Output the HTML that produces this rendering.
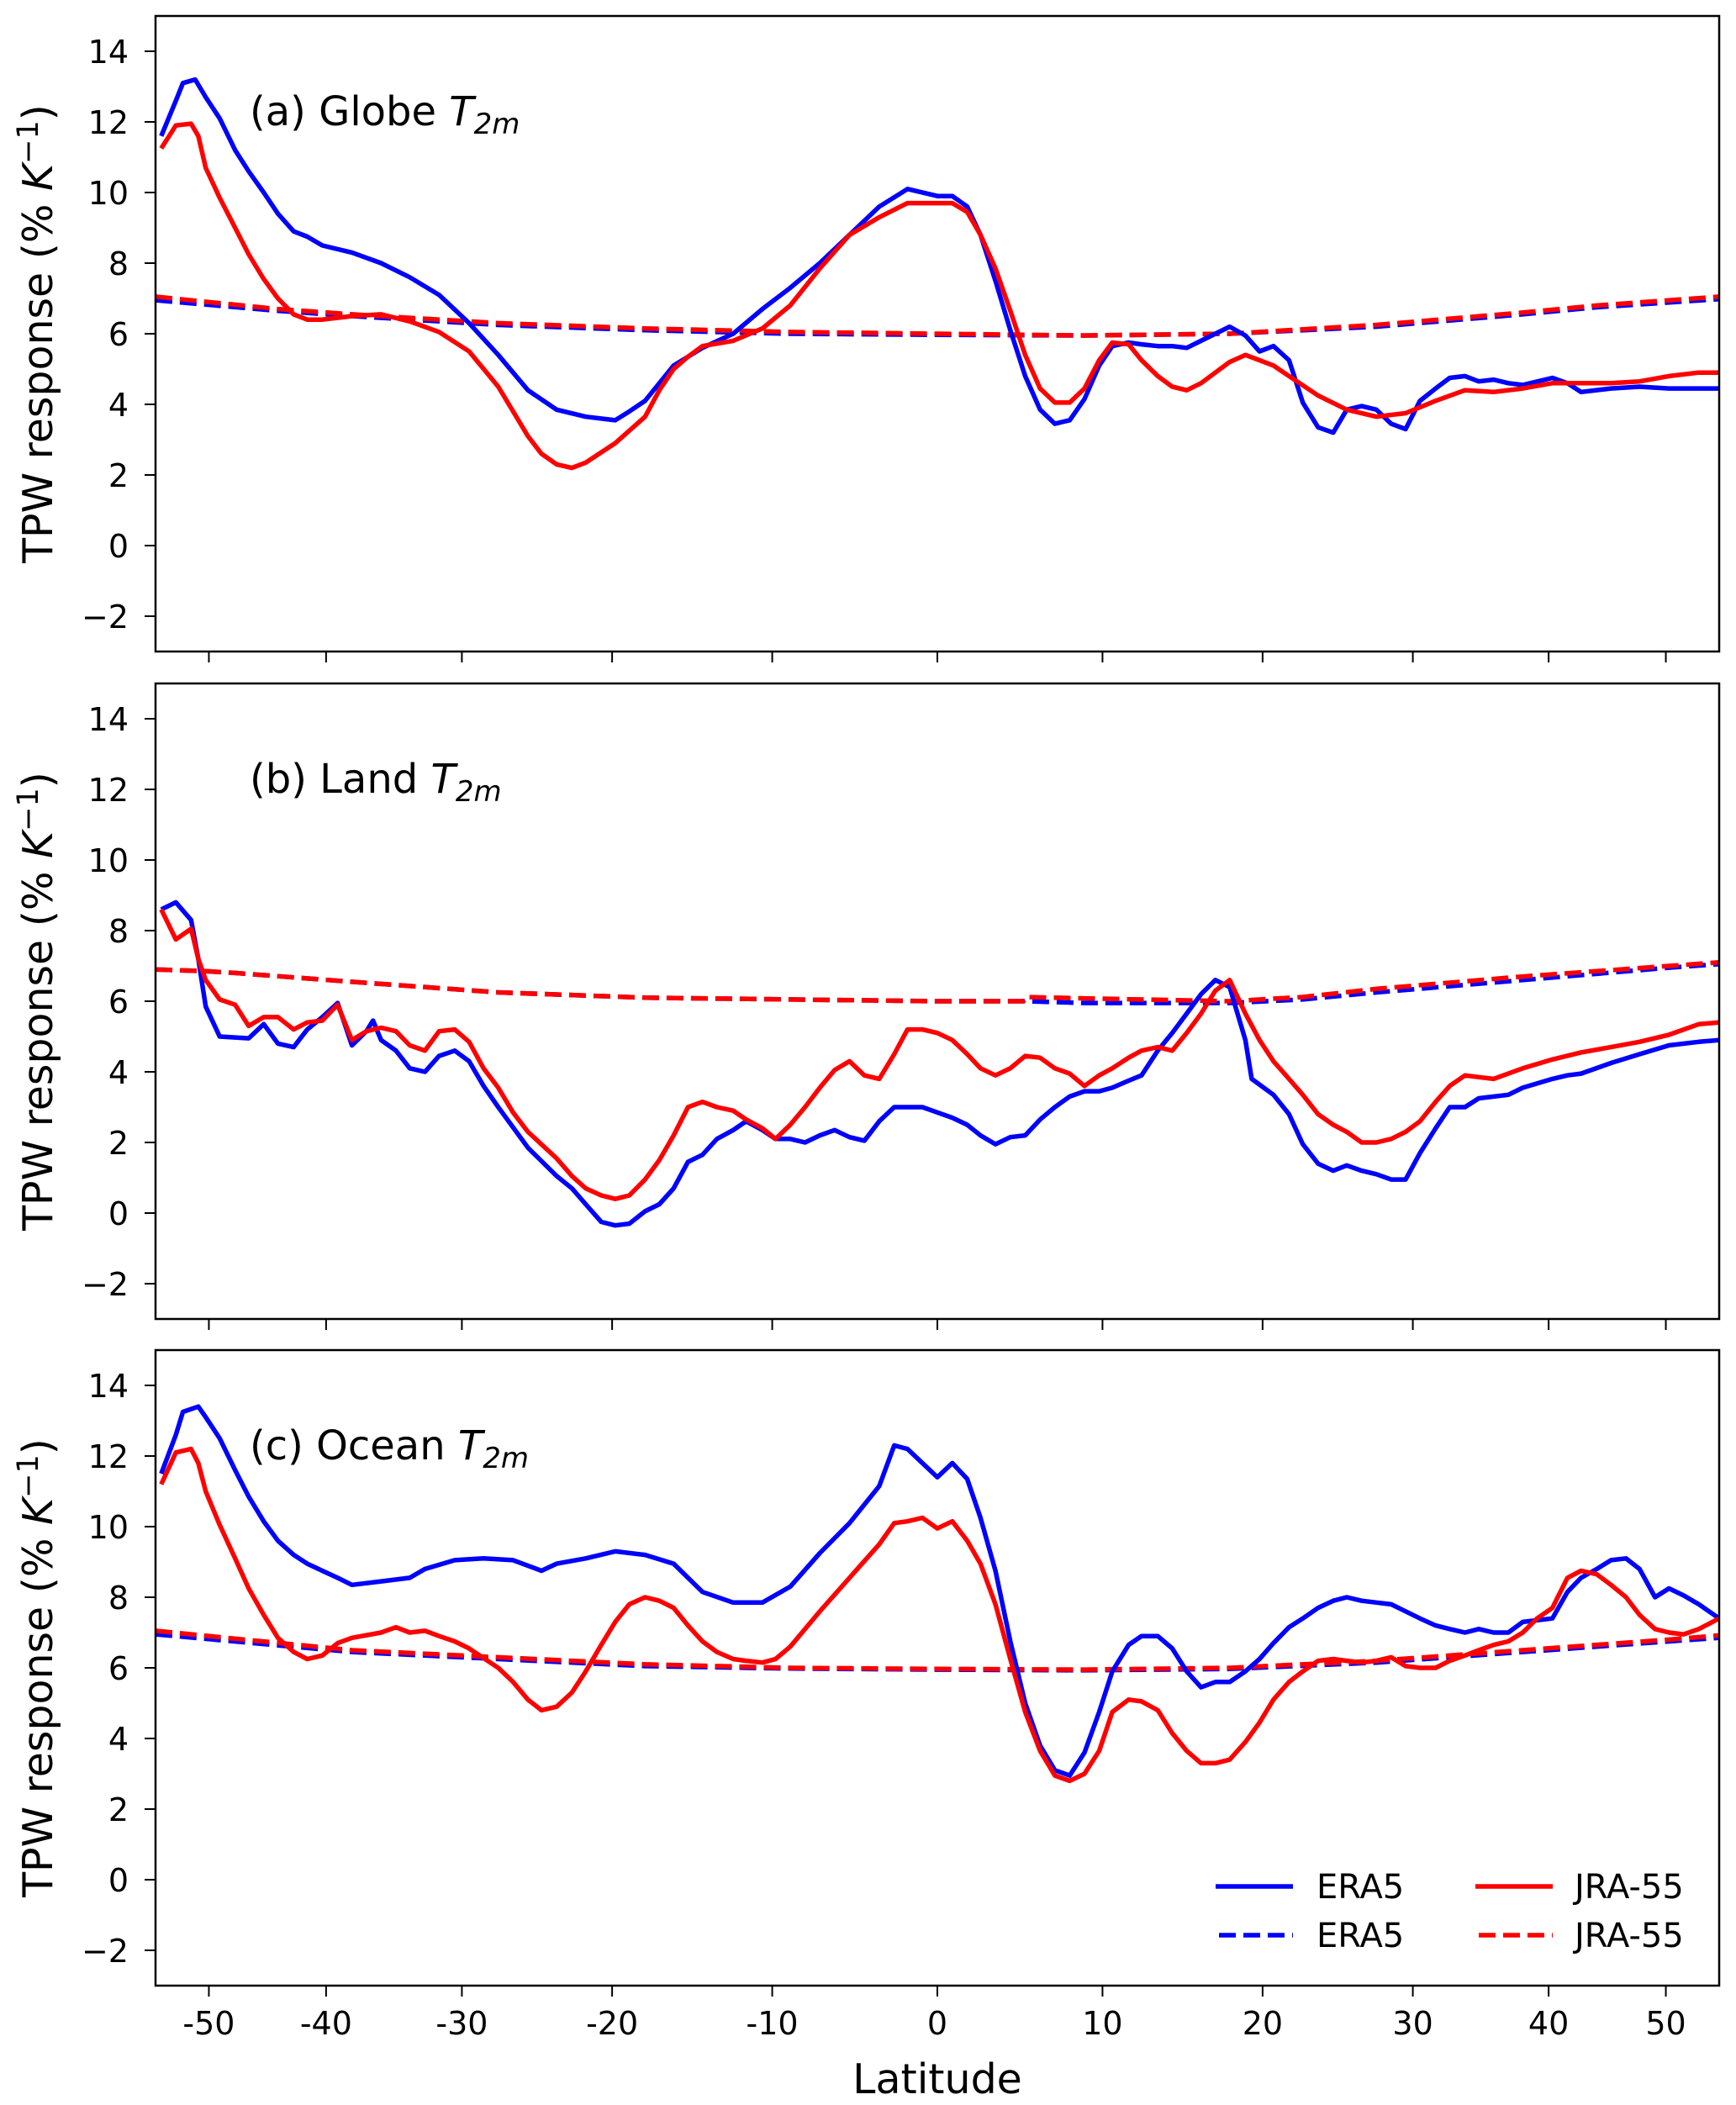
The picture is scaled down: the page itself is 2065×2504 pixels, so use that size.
<!DOCTYPE html>
<html><head><meta charset="utf-8"><style>
body{margin:0;background:#fff}
svg{display:block;font-family:"DejaVu Sans","Liberation Sans",sans-serif}
</style></head><body>
<svg id="chart" width="2065" height="2504" viewBox="0 0 2065 2504" xmlns="http://www.w3.org/2000/svg"></svg>
<script>
// ---- data ----
const xTicks=[-50,-40,-30,-20,-10,0,10,20,30,40,50];
const yTicks=[-2,0,2,4,6,8,10,12,14];
const panelLabels=["(a) Globe ","(b) Land ","(c) Ocean "];
const seriesNames=["ERA5","JRA-55"];
// sampled latitudes (deg) used by many series
const P=[0.9,1.8,2.6,3.5,4.4,5.3,6.2,7.1,8.0,8.9,9.8,10.6,11.6,12.4,13.4,14.3,15.2,16.1,17.0,17.9,18.9,19.8,20.7,21.7,22.6,23.6,24.6,25.5,26.5,27.5,28.5,29.5,30.5,31.6,32.6,33.7,34.7,35.8,36.9,38.0];

const aEraLat=[-54.7,-53.2,-52.5,-51.3,-50.3,-49.0,-47.6,-46.4,-45.1,-43.9,-42.6,-41.5,-40.3,-38.0,-35.8,-33.7,-31.6,-29.5,-27.5,-25.5,-23.6,-21.7,-19.8,-18.9,-17.9,-17.0,-16.1,-14.3,-12.4,-10.6,-8.9,-7.1,-5.3,-3.5,-1.8,0,...P,40.3,41.5,42.6,45.1,47.6,50.3,53.2,55.3];
const aEraVal=[11.6,12.6,13.1,13.2,12.7,12.1,11.2,10.6,10.0,9.4,8.9,8.75,8.5,8.3,8.0,7.6,7.1,6.3,5.4,4.4,3.85,3.65,3.55,3.8,4.1,4.6,5.1,5.6,6.0,6.7,7.3,8.0,8.8,9.6,10.1,9.9,9.9,9.6,8.8,7.5,6.1,4.8,3.85,3.45,3.55,4.15,5.1,5.65,5.75,5.7,5.65,5.65,5.6,5.8,6.0,6.2,5.95,5.5,5.65,5.25,4.05,3.35,3.2,3.85,3.95,3.85,3.45,3.3,4.1,4.45,4.75,4.8,4.65,4.7,4.6,4.55,4.75,4.6,4.35,4.45,4.5,4.45,4.45,4.45];
const aJraLat=[-54.7,-53.2,-51.7,-51.0,-50.3,-49.0,-47.6,-46.4,-45.1,-43.9,-42.6,-41.5,-40.3,-38.0,-35.8,-33.7,-31.6,-29.5,-27.5,-25.5,-24.6,-23.6,-22.6,-21.7,-19.8,-17.9,-17.0,-16.1,-15.2,-14.3,-12.4,-10.6,-8.9,-7.1,-5.3,-3.5,-1.8,0,...P.slice(0,24),23.6,25.5,27.5,29.5,31.6,33.7,35.8,38.0,40.3,42.6,45.1,47.6,50.3,53.2,55.3];
const aJraVal=[11.25,11.9,11.95,11.6,10.7,9.85,9.0,8.25,7.55,7.0,6.55,6.4,6.4,6.5,6.55,6.35,6.05,5.5,4.5,3.1,2.6,2.3,2.2,2.35,2.9,3.65,4.4,5.0,5.35,5.65,5.8,6.15,6.8,7.85,8.8,9.3,9.7,9.7,9.7,9.45,8.8,7.85,6.65,5.4,4.45,4.05,4.05,4.45,5.25,5.75,5.7,5.25,4.8,4.5,4.4,4.6,4.9,5.2,5.4,5.25,5.1,4.8,4.25,3.85,3.65,3.75,4.1,4.4,4.35,4.45,4.6,4.6,4.6,4.65,4.8,4.9,4.9];
const aDashLat=[-55.3,-43.9,-38.0,-27.5,-17.9,-8.9,0,8.9,17.9,27.5,38.0,43.9,55.3];
const aEraDash=[6.95,6.65,6.5,6.25,6.1,6.0,5.97,5.95,6.0,6.2,6.55,6.75,6.98];
const aJraDash=[7.05,6.7,6.55,6.3,6.15,6.05,6.0,5.95,6.0,6.25,6.6,6.8,7.05];

const bEraLat=[-54.7,-53.2,-51.7,-51.0,-50.3,-49.0,-46.4,-45.1,-43.9,-42.6,-41.5,-40.3,-39.1,-38.0,-36.9,-36.4,-35.8,-34.7,-33.7,-32.6,-31.6,-30.5,-29.5,-28.5,-27.5,-25.5,-23.6,-22.6,-21.7,-20.7,-19.8,-18.9,-17.9,-17.0,-16.1,-15.2,-14.3,-13.4,-12.4,-11.6,-10.6,-9.8,-8.9,-8.0,-7.1,-6.2,-5.3,-4.4,-3.5,-2.6,-1.8,-0.9,0,...P.slice(0,21),19.3,...P.slice(22),40.3,41.5,42.6,45.1,47.6,50.3,53.2,55.3];
const bEraVal=[8.6,8.8,8.3,7.2,5.85,5.0,4.95,5.35,4.8,4.7,5.2,5.55,5.95,4.75,5.15,5.45,4.9,4.6,4.1,4.0,4.45,4.6,4.3,3.6,3.0,1.85,1.05,0.7,0.25,-0.25,-0.35,-0.3,0.05,0.25,0.7,1.45,1.65,2.1,2.35,2.6,2.35,2.1,2.1,2.0,2.2,2.35,2.15,2.05,2.6,3.0,3.0,3.0,2.85,2.7,2.5,2.2,1.95,2.15,2.2,2.65,3.0,3.3,3.45,3.45,3.55,3.75,3.9,4.6,5.1,5.65,6.2,6.6,6.4,4.9,3.8,3.35,2.8,1.95,1.4,1.2,1.35,1.2,1.1,0.95,0.95,1.7,2.4,3.0,3.0,3.25,3.3,3.35,3.55,3.8,3.9,3.95,4.25,4.5,4.75,4.85,4.9];
const bJraLat=[-54.7,-53.2,-51.7,-51.0,-50.3,-49.0,-47.6,-46.4,-45.1,-43.9,-42.6,-41.5,-40.3,-39.1,-38.0,-36.9,-35.8,-34.7,-33.7,-32.6,-31.6,-30.5,-29.5,-28.5,-27.5,-26.5,-25.5,-23.6,-22.6,-21.7,-20.7,-19.8,-18.9,-17.9,-17.0,-16.1,-15.2,-14.3,-13.4,-12.4,-11.6,-10.6,-9.8,-8.9,-8.0,-7.1,-6.2,-5.3,-4.4,-3.5,-2.6,-1.8,-0.9,0,...P,40.3,42.6,45.1,47.6,50.3,53.2,55.3];
const bJraVal=[8.6,7.75,8.05,7.2,6.6,6.05,5.9,5.3,5.55,5.55,5.2,5.4,5.45,5.9,4.9,5.15,5.25,5.15,4.75,4.6,5.15,5.2,4.85,4.1,3.55,2.85,2.3,1.55,1.05,0.7,0.5,0.4,0.5,0.95,1.5,2.2,3.0,3.15,3.0,2.9,2.65,2.4,2.1,2.5,3.0,3.55,4.05,4.3,3.9,3.8,4.5,5.2,5.2,5.1,4.9,4.5,4.1,3.9,4.1,4.45,4.4,4.1,3.95,3.6,3.9,4.1,4.4,4.6,4.7,4.6,5.1,5.65,6.3,6.6,5.65,4.9,4.3,3.8,3.35,2.8,2.5,2.3,2.0,2.0,2.1,2.3,2.6,3.15,3.6,3.9,3.85,3.8,3.95,4.1,4.35,4.55,4.7,4.85,5.05,5.35,5.4];
const bDashLat=[-55.3,-50.3,-47.6,-38.0,-27.5,-17.9,-8.9,0,5.2,5.3,8.9,17.9,22.6,27.5,38.0,50.3,55.3];
const bEraDash=[6.9,6.85,6.8,6.55,6.25,6.1,6.05,6.0,6.0,6.0,5.95,5.95,6.05,6.25,6.6,6.95,7.05];
const bJraDash=[6.9,6.85,6.8,6.55,6.25,6.1,6.05,6.0,6.0,6.12,6.08,6.0,6.12,6.35,6.7,7.0,7.1];

const cEraLat=[-54.7,-53.2,-52.5,-51.0,-50.3,-49.0,-47.6,-46.4,-45.1,-43.9,-42.6,-41.5,-40.3,-39.1,-38.0,-35.8,-33.7,-32.6,-30.5,-28.5,-26.5,-24.6,-23.6,-21.7,-19.8,-17.9,-16.1,-14.3,-12.4,-10.6,-8.9,-7.1,-5.3,-3.5,-2.6,-1.8,-0.9,0,...P,40.3,41.5,42.6,43.9,45.1,46.4,47.6,49.0,50.3,51.7,53.2,55.3];
const cEraVal=[11.5,12.6,13.25,13.4,13.1,12.5,11.6,10.85,10.15,9.6,9.2,8.95,8.75,8.55,8.35,8.45,8.55,8.8,9.05,9.1,9.05,8.75,8.95,9.1,9.3,9.2,8.95,8.15,7.85,7.85,8.3,9.25,10.1,11.15,12.3,12.2,11.8,11.4,11.8,11.35,10.25,8.75,6.75,5.0,3.8,3.1,2.95,3.6,4.75,5.9,6.65,6.9,6.9,6.55,5.9,5.45,5.6,5.6,5.9,6.25,6.7,7.15,7.4,7.7,7.9,8.0,7.9,7.85,7.8,7.6,7.4,7.2,7.1,7.0,7.1,7.0,7.0,7.3,7.4,8.15,8.55,8.8,9.05,9.1,8.8,8.0,8.25,8.05,7.8,7.4];
const cJraLat=[-54.7,-53.2,-51.7,-51.0,-50.3,-49.0,-47.6,-46.4,-45.1,-43.9,-42.6,-41.5,-40.3,-39.1,-38.0,-35.8,-34.7,-33.7,-32.6,-31.6,-30.5,-29.5,-27.5,-26.5,-25.5,-24.6,-23.6,-22.6,-21.7,-20.7,-19.8,-18.9,-17.9,-17.0,-16.1,-15.2,-14.3,-13.4,-12.4,-11.6,-10.6,-9.8,-8.9,-7.1,-5.3,-3.5,-2.6,-1.8,-0.9,0,...P,39.1,40.3,41.5,42.6,43.9,45.1,46.4,47.6,49.0,50.3,51.7,53.2,55.3];
const cJraVal=[11.2,12.1,12.2,11.8,11.0,10.05,9.1,8.25,7.5,6.85,6.45,6.25,6.35,6.7,6.85,7.0,7.15,7.0,7.05,6.9,6.75,6.55,6.0,5.6,5.1,4.8,4.9,5.3,5.9,6.65,7.3,7.8,8.0,7.9,7.7,7.2,6.75,6.45,6.25,6.2,6.15,6.25,6.6,7.6,8.55,9.5,10.1,10.15,10.25,9.95,10.15,9.6,8.95,7.8,6.25,4.75,3.65,2.95,2.8,3.0,3.65,4.75,5.1,5.05,4.8,4.15,3.65,3.3,3.3,3.4,3.9,4.45,5.1,5.6,5.9,6.2,6.25,6.2,6.15,6.2,6.3,6.05,6.0,6.0,6.2,6.35,6.5,6.65,6.75,7.0,7.4,7.7,8.55,8.75,8.65,8.35,8.0,7.5,7.1,7.0,6.95,7.1,7.4];
const cDashLat=[-55.3,-38.0,-27.5,-17.9,-8.9,0,8.9,17.9,27.5,38.0,50.3,55.3];
const cEraDash=[6.95,6.45,6.25,6.05,5.98,5.95,5.93,5.97,6.15,6.45,6.75,6.85];
const cJraDash=[7.05,6.5,6.3,6.1,6.0,5.97,5.95,6.0,6.2,6.5,6.8,6.92];

const panels=[
 {id:"globe",era:[aEraLat,aEraVal],jra:[aJraLat,aJraVal],eraD:[aDashLat,aEraDash],jraD:[aDashLat,aJraDash]},
 {id:"land",era:[bEraLat,bEraVal],jra:[bJraLat,bJraVal],eraD:[bDashLat,bEraDash],jraD:[bDashLat,bJraDash]},
 {id:"ocean",era:[cEraLat,cEraVal],jra:[cJraLat,cJraVal],eraD:[cDashLat,cEraDash],jraD:[cDashLat,cJraDash]}
];

// ---- layout ----
const L=185,R=2045,H=756,tops=[19,813,1606];
const XMAX=55.3,Y0=-3,Y1=15;
const NS="http://www.w3.org/2000/svg";
const svg=document.getElementById('chart');
function el(tag,attrs,parent,text){const e=document.createElementNS(NS,tag);for(const k in attrs)e.setAttribute(k,attrs[k]);if(text!==undefined)e.textContent=text;(parent||svg).appendChild(e);return e;}
const rad=d=>d*Math.PI/180;
const xs=v=>(L+R)/2+Math.sin(rad(v))/Math.sin(rad(XMAX))*(R-L)/2;

panels.forEach((p,i)=>{
 const T=tops[i],B=T+H;
 const ys=v=>B-(v-Y0)/(Y1-Y0)*H;
 const g=el('g',{});
 
 
 const cid='clip'+i;
 const cp=el('clipPath',{id:cid},g);el('rect',{x:L,y:T,width:R-L,height:H},cp);
 const lines=el('g',{'clip-path':'url(#'+cid+')'},g);
 function draw(arr,color,dash,name){
  const d=arr[0].map((x,k)=>(k?'L':'M')+xs(x).toFixed(1)+','+ys(arr[1][k]).toFixed(1)).join('');
  const path=el('path',{d:d,fill:'none',stroke:color,'stroke-width':5.5,'stroke-linejoin':'round'},lines);
  if(dash)path.setAttribute('stroke-dasharray','20 9');
  
  
 }
 draw(p.eraD,'#0000ff',true,'era5-dashed-line');
 draw(p.jraD,'#ff0000',true,'jra55-dashed-line');
 draw(p.era,'#0000ff',false,'era5-solid-line');
 draw(p.jra,'#ff0000',false,'jra55-solid-line');
 const frame=el('rect',{x:L,y:T,width:R-L,height:H,fill:'none',stroke:'#000','stroke-width':2.5},g);
 
 
 const yax=el('g',{},g);
 
 
 yTicks.forEach(t=>{
  const y=ys(t);
  el('line',{x1:L-13,x2:L,y1:y,y2:y,stroke:'#000','stroke-width':2},yax);
  const tx=el('text',{x:L-32,y:y+14,'text-anchor':'end','font-size':38},yax,t<0?'\u2212'+(-t):String(t));
  
  
 });
 const xax=el('g',{},g);
 
 
 xTicks.forEach(t=>{
  const x=xs(t);
  el('line',{x1:x,x2:x,y1:B,y2:B+13,stroke:'#000','stroke-width':2},xax);
  if(i===2){const tx=el('text',{x:x,y:B+58,'text-anchor':'middle','font-size':38},xax,String(t));
   
   }
 });
 const yl=el('text',{x:0,y:0,transform:'translate(62,'+(T+H/2)+') rotate(-90)','text-anchor':'middle','font-size':49},g);
 
 
 yl.appendChild(document.createTextNode('TPW response (% '));
 el('tspan',{'font-style':'italic'},yl,'K');
 el('tspan',{dy:-17,'font-size':35},yl,'\u22121');
 el('tspan',{dy:17},yl,')');
 const lab=el('text',{x:297,y:T+130,'font-size':48},g);
 
 
 lab.appendChild(document.createTextNode(panelLabels[i]));
 el('tspan',{'font-style':'italic'},lab,'T');
 el('tspan',{dy:10,'font-size':34,'font-style':'italic'},lab,'2m');
});

const xl=el('text',{x:(L+R)/2,y:2490,'text-anchor':'middle','font-size':49},svg,'Latitude');



// legend
const lg=el('g',{});


const cols=[[1446,'#0000ff',1566],[1755,'#ff0000',1873]];
cols.forEach((c,ci)=>{
 [[2244,false],[2302,true]].forEach(([y,d])=>{
  const ent=el('g',{},lg);
  
  
  const ln=el('line',{x1:c[0],x2:c[0]+92,y1:y,y2:y,stroke:c[1],'stroke-width':5.5},ent);
  if(d){ln.setAttribute('x1',c[0]+4);ln.setAttribute('stroke-dasharray','20 9');}
  el('text',{x:c[2],y:y+14,'font-size':40},ent,seriesNames[ci]);
 });
});
</script>
</body></html>
